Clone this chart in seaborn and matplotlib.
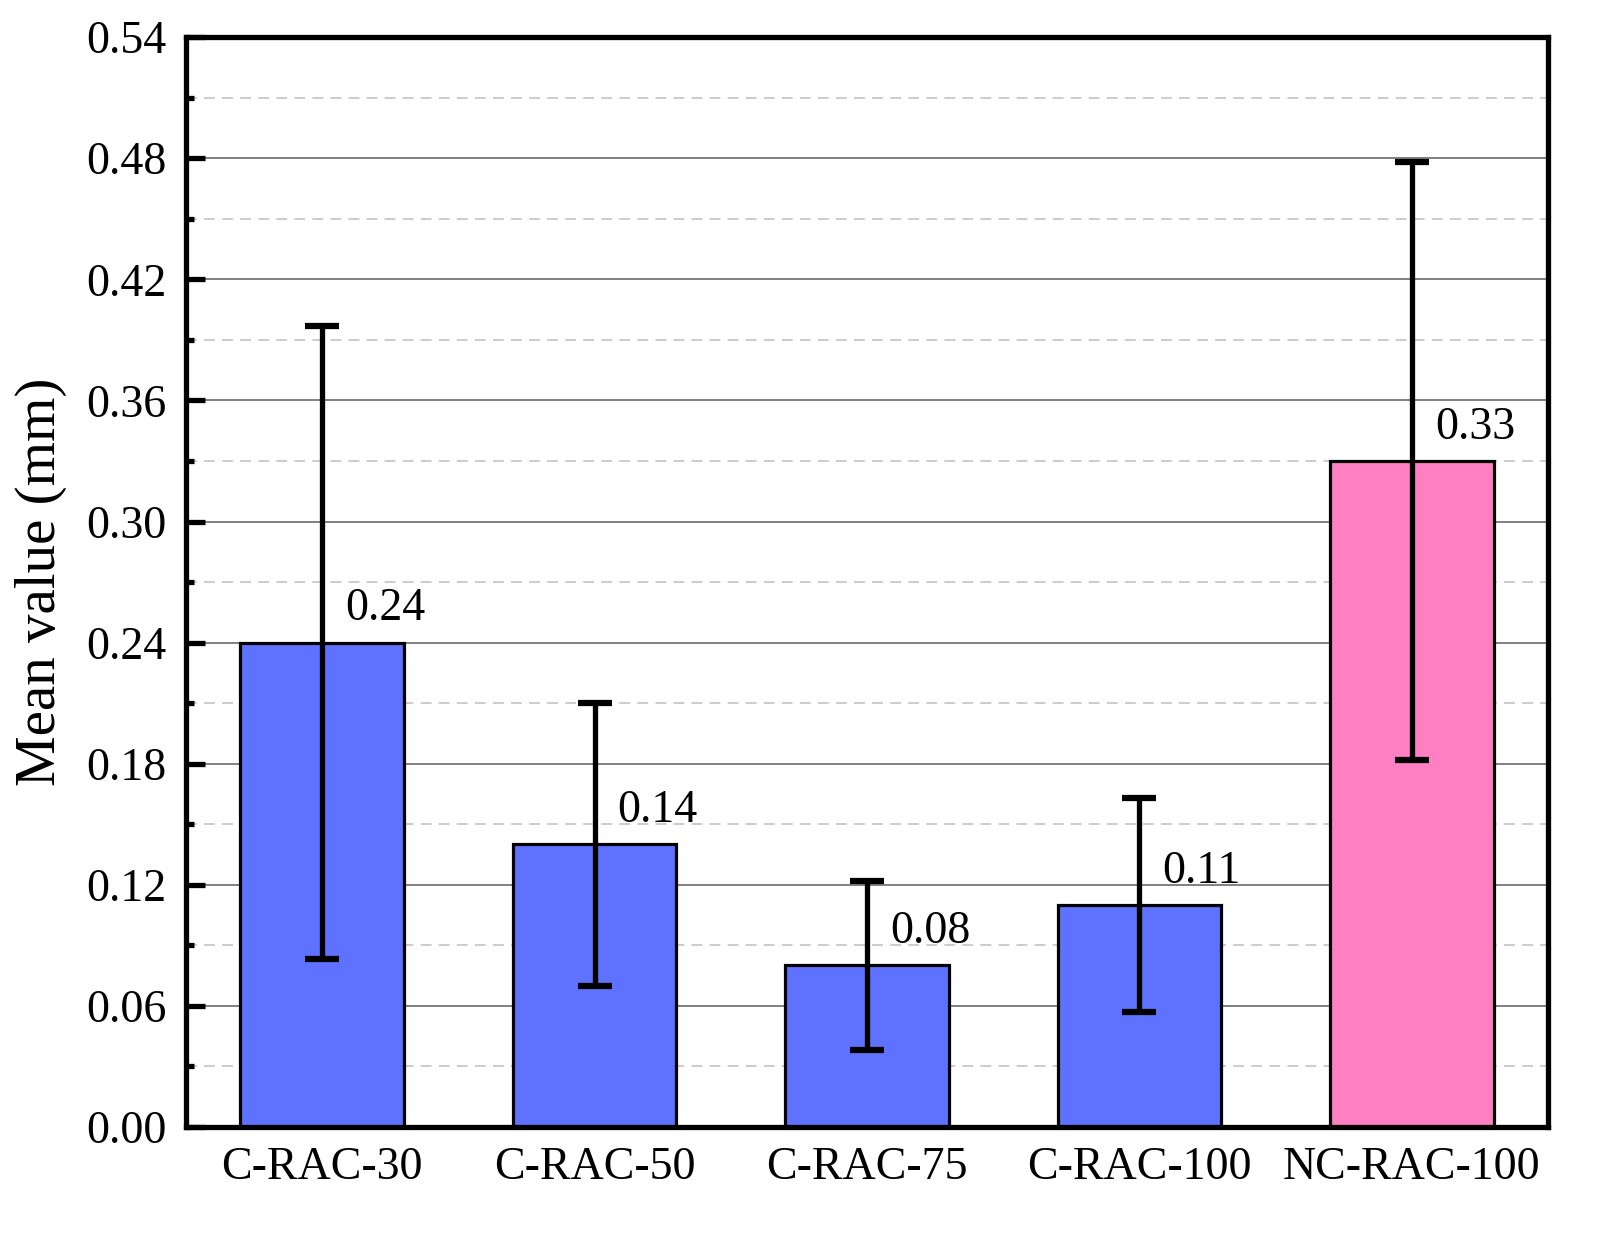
import pandas as pd
import matplotlib.pyplot as plt
import seaborn as sns
from matplotlib.ticker import MultipleLocator

# data
groups = ['C-RAC-30', 'C-RAC-50', 'C-RAC-75', 'C-RAC-100', 'NC-RAC-100']
means = [0.24, 0.14, 0.08, 0.11, 0.33]
errors = [0.157, 0.070, 0.042, 0.053, 0.148]
bar_colors = ['#5F72FF', '#5F72FF', '#5F72FF', '#5F72FF', '#FF80C2']
y_ticks = [0.00, 0.06, 0.12, 0.18, 0.24, 0.30, 0.36, 0.42, 0.48, 0.54]

df = pd.DataFrame({'group': groups, 'mean': means, 'err': errors})

sns.set_style('white')
plt.rcParams['font.family'] = ['Liberation Serif', 'DejaVu Serif']
plt.rcParams['text.color'] = 'black'
plt.rcParams['axes.labelcolor'] = 'black'
plt.rcParams['xtick.color'] = 'black'
plt.rcParams['ytick.color'] = 'black'

fig = plt.figure(figsize=(16.06, 12.38), dpi=100)
ax = fig.add_axes([0.1158, 0.0897, 0.8481, 0.8803])

sns.barplot(data=df, x='group', y='mean', hue='group', palette=bar_colors,
            saturation=1, legend=False, width=0.6, edgecolor='black',
            linewidth=2.3, errorbar=None, ax=ax, zorder=2)

# error bars (std)
ax.errorbar(range(len(groups)), df['mean'], yerr=df['err'], fmt='none',
            ecolor='black', elinewidth=3.8, capsize=12, capthick=4.5, zorder=3)

# value labels
for i, v in enumerate(means):
    ax.text(i + 0.085, v + 0.006, f'{v:.2f}', ha='left', va='bottom',
            fontsize=33, color='black')

ax.set_xlim(-0.5, 4.5)
ax.set_ylim(0, 0.54)
ax.set_yticks(y_ticks)
ax.set_yticklabels([f'{t:.2f}' for t in y_ticks])
ax.yaxis.set_minor_locator(MultipleLocator(0.03))

ax.grid(True, which='major', axis='y', color='#808080', linewidth=1.4, linestyle='-')
ax.grid(True, which='minor', axis='y', color='#C8C8C8', linewidth=1.3, linestyle=(0, (6, 4)))
ax.set_axisbelow(True)

for s in ax.spines.values():
    s.set_linewidth(3.8)
    s.set_color('black')
    s.set_visible(True)

ax.tick_params(axis='y', which='major', left=True, direction='in', length=14,
               width=3.8, labelsize=33, pad=14, colors='black')
ax.tick_params(axis='y', which='minor', left=True, direction='in', length=6,
               width=3.8, colors='black')
ax.tick_params(axis='x', which='both', bottom=False, length=0, labelsize=33,
               pad=14, colors='black')

ax.set_xlabel('')
ax.set_ylabel('Mean value (mm)', fontsize=41, labelpad=14, color='black')

fig.savefig('out.png', dpi=100)
